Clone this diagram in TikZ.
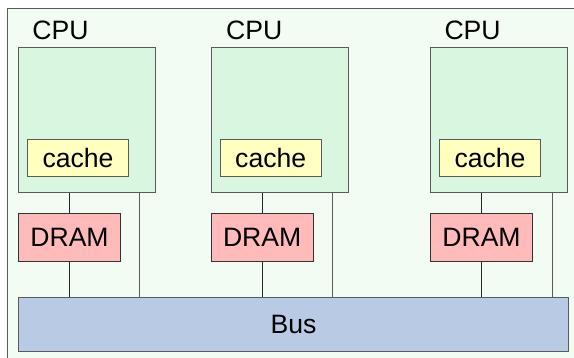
\documentclass[tikz,border=0pt]{standalone}
\usepackage{fontspec}
\setmainfont{Liberation Sans}
\usetikzlibrary{positioning,calc}

\definecolor{framebg}{RGB}{242,252,242}
\definecolor{cpubg}{RGB}{216,246,224}
\definecolor{cachebg}{RGB}{255,255,192}
\definecolor{drambg}{RGB}{255,186,186}
\definecolor{busbg}{RGB}{184,202,228}
\definecolor{edge}{RGB}{90,90,90}

\begin{document}
\begin{tikzpicture}[
  x=0.5pt, y=0.5pt, line width=0.5pt,
  every node/.style={font=\fontsize{13.3pt}{16pt}\selectfont},
  cpubox/.style={draw=edge,fill=cpubg,minimum width=68.5pt,minimum height=72.5pt,anchor=north west},
  cachebox/.style={draw=edge,fill=cachebg,minimum width=50.5pt,minimum height=18.5pt,inner sep=0pt},
  drambox/.style={draw=black!80,fill=drambg,minimum width=51pt,minimum height=24pt,inner sep=0pt},
  busbox/.style={draw=edge,fill=busbg,minimum width=275pt,minimum height=27pt,inner sep=0pt},
  cpulbl/.style={inner sep=0pt,anchor=base west},
  wire/.style={draw=black!85}]
% frame
\path[clip] (0,0) rectangle (574,-358);
\useasboundingbox (0,0) rectangle (574,-358);
\draw[edge,fill=framebg] (7,-9) rectangle (600,-380);

% processors
\node[cpubox] (cpuA) at (18,-47) {};
\node[cpubox] (cpuB) at (210.7,-47) {};
\node[cpubox] (cpuC) at (430,-47) {};
\node[cpulbl] (lblA) at ($(cpuA.north west)+(7pt,3.5pt)$) {CPU};
\node[cpulbl] (lblB) at ($(cpuB.north west)+(7.5pt,3.5pt)$) {CPU};
\node[cpulbl] (lblC) at ($(cpuC.north west)+(7pt,3.5pt)$) {CPU};
\node[cachebox,above right=8pt and 4.5pt of cpuA.south west] (cacheA) {cache};
\node[cachebox,above right=8pt and 4.5pt of cpuB.south west] (cacheB) {cache};
\node[cachebox,above right=8pt and 4.5pt of cpuC.south west] (cacheC) {cache};

% memories and bus
\node[drambox,below=10pt of cpuA.south west,anchor=north west] (dramA) {DRAM};
\node[drambox,below=10pt of cpuB.south west,anchor=north west] (dramB) {DRAM};
\node[drambox,below=10pt of cpuC.south west,anchor=north west] (dramC) {DRAM};
\node[busbox,below=17.5pt of dramA.south west,anchor=north west] (bus) {Bus};

\coordinate (tapA) at ($(cpuA.south east)+(-8.25pt,0)$);
\coordinate (tapB) at ($(cpuB.south east)+(-8pt,0)$);
\coordinate (tapC) at ($(cpuC.south east)+(-8pt,0)$);

% wires
\foreach \c in {A,B,C} {
  \draw[wire] (dram\c.north) -- (dram\c.north |- cpu\c.south);
  \draw[wire] (dram\c.south) -- (dram\c.south |- bus.north);
  \draw[wire,draw=edge] (tap\c) -- (tap\c |- bus.north);
}
\end{tikzpicture}
\end{document}
